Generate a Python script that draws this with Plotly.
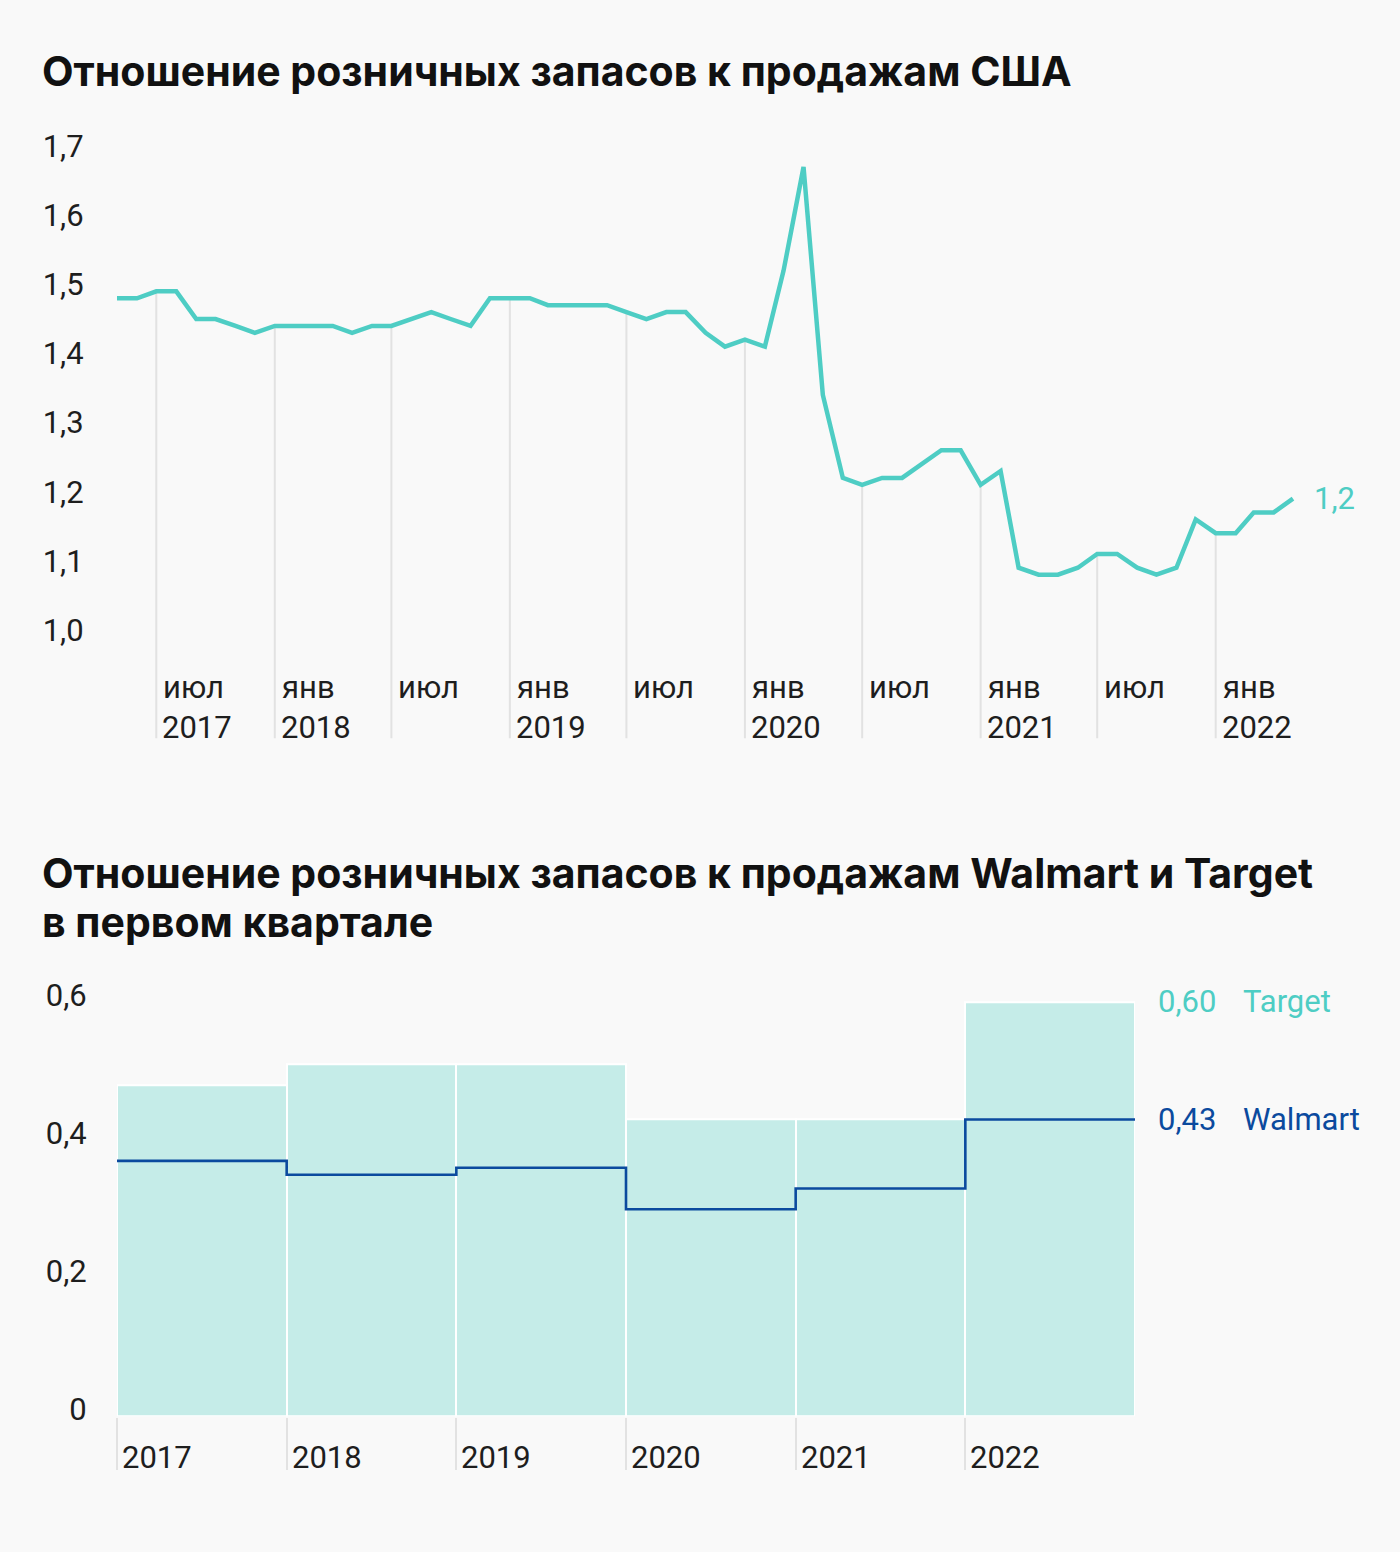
import plotly.graph_objects as go

# ---------------- data ----------------
TITLE_TOP = "Отношение розничных запасов к продажам США"
TITLE_BOTTOM_1 = "Отношение розничных запасов к продажам Walmart и Target"
TITLE_BOTTOM_2 = "в первом квартале"

months = [
    "2017-05-01", "2017-06-01", "2017-07-01", "2017-08-01", "2017-09-01", "2017-10-01", "2017-11-01", "2017-12-01",
    "2018-01-01", "2018-02-01", "2018-03-01", "2018-04-01", "2018-05-01", "2018-06-01",
    "2018-07-01", "2018-08-01", "2018-09-01", "2018-10-01", "2018-11-01", "2018-12-01",
    "2019-01-01", "2019-02-01", "2019-03-01", "2019-04-01", "2019-05-01", "2019-06-01",
    "2019-07-01", "2019-08-01", "2019-09-01", "2019-10-01", "2019-11-01", "2019-12-01",
    "2020-01-01", "2020-02-01", "2020-03-01", "2020-04-01", "2020-05-01", "2020-06-01",
    "2020-07-01", "2020-08-01", "2020-09-01", "2020-10-01", "2020-11-01", "2020-12-01",
    "2021-01-01", "2021-02-01", "2021-03-01", "2021-04-01", "2021-05-01", "2021-06-01",
    "2021-07-01", "2021-08-01", "2021-09-01", "2021-10-01", "2021-11-01", "2021-12-01",
    "2022-01-01", "2022-02-01", "2022-03-01", "2022-04-01", "2022-05-01",
]
us_ratio = [
    1.48, 1.48, 1.49, 1.49, 1.45, 1.45, 1.44, 1.43,
    1.44, 1.44, 1.44, 1.44, 1.43, 1.44,
    1.44, 1.45, 1.46, 1.45, 1.44, 1.48,
    1.48, 1.48, 1.47, 1.47, 1.47, 1.47,
    1.46, 1.45, 1.46, 1.46, 1.43, 1.41,
    1.42, 1.41, 1.52, 1.67, 1.34, 1.22,
    1.21, 1.22, 1.22, 1.24, 1.26, 1.26,
    1.21, 1.23, 1.09, 1.08, 1.08, 1.09,
    1.11, 1.11, 1.09, 1.08, 1.09, 1.16,
    1.14, 1.14, 1.17, 1.17, 1.19,
]
top_tick_dates = ["2017-07-01", "2018-01-01", "2018-07-01", "2019-01-01", "2019-07-01",
                  "2020-01-01", "2020-07-01", "2021-01-01", "2021-07-01", "2022-01-01"]
top_tick_months = ["июл", "янв", "июл", "янв", "июл", "янв", "июл", "янв", "июл", "янв"]
top_tick_years = ["2017", "2018", "", "2019", "", "2020", "", "2021", "", "2022"]
top_y_ticks = [1.0, 1.1, 1.2, 1.3, 1.4, 1.5, 1.6, 1.7]
top_y_text = ["1,0", "1,1", "1,2", "1,3", "1,4", "1,5", "1,6", "1,7"]
top_end_label = "1,2"

years = [2017, 2018, 2019, 2020, 2021, 2022]
year_labels = ["2017", "2018", "2019", "2020", "2021", "2022"]
target_ratio = [0.48, 0.51, 0.51, 0.43, 0.43, 0.60]
walmart_ratio = [0.37, 0.35, 0.36, 0.30, 0.33, 0.43]
bot_y_ticks = [0, 0.2, 0.4, 0.6]
bot_y_text = ["0", "0,2", "0,4", "0,6"]

# ---------------- style ----------------
PAGE_MARGIN = 8                      # default body margin of the page
W, H = 1400 - 2 * PAGE_MARGIN, 1552 - 2 * PAGE_MARGIN
FONT = "Roboto"
TITLE_FONT = "Inter"
TEAL = "#4ecdc4"
BAR = "#c5ece8"
BLUE = "#0b4a9e"
TXT = "#1e1e1e"
GRID = "#e2e2e2"
CARD = "#f9f9f9"
FS = 31


def py(pix):
    return 1 - (pix - PAGE_MARGIN) / H


def px(pix):
    return (pix - PAGE_MARGIN) / W


fig = go.Figure()

fig.add_trace(go.Scatter(x=months, y=us_ratio, mode="lines",
                         line=dict(color=TEAL, width=4.5), hoverinfo="skip",
                         xaxis="x", yaxis="y", showlegend=False))

fig.add_trace(go.Bar(x=years, y=target_ratio, width=1, offset=0,
                     marker=dict(color=BAR, line=dict(color="white", width=2)),
                     xaxis="x2", yaxis="y2", showlegend=False, hoverinfo="skip"))
fig.add_trace(go.Scatter(x=years + [years[-1] + 1], y=walmart_ratio + [walmart_ratio[-1]],
                         mode="lines", line=dict(color=BLUE, width=2.6, shape="hv"),
                         xaxis="x2", yaxis="y2", showlegend=False, hoverinfo="skip"))

TOP_YMIN, TOP_YMAX = 0.842857, 1.714286
shapes = []
val_by_month = dict(zip(months, us_ratio))
for d in top_tick_dates:
    shapes.append(dict(type="line", xref="x", yref="y", x0=d, x1=d,
                       y0=TOP_YMIN, y1=val_by_month[d],
                       line=dict(color=GRID, width=2), layer="below"))

annotations = []
title_font = dict(family=TITLE_FONT, size=41, color="#111", weight=700)
annotations.append(dict(text=TITLE_TOP, xref="paper", yref="paper",
                        x=px(40), y=py(64), xanchor="left", yanchor="middle", showarrow=False,
                        font=title_font))
annotations.append(dict(text=TITLE_BOTTOM_1, xref="paper", yref="paper",
                        x=px(40), y=py(876), xanchor="left", yanchor="middle", showarrow=False,
                        font=title_font))
annotations.append(dict(text=TITLE_BOTTOM_2, xref="paper", yref="paper",
                        x=px(40), y=py(926), xanchor="left", yanchor="middle", showarrow=False,
                        font=title_font))

for d, m, yv in zip(top_tick_dates, top_tick_months, top_tick_years):
    annotations.append(dict(text=m, xref="x", yref="paper", x=d, y=py(688), xshift=5,
                            xanchor="left", yanchor="middle", showarrow=False,
                            font=dict(family=FONT, size=FS, color=TXT)))
    if yv:
        annotations.append(dict(text=yv, xref="x", yref="paper", x=d, y=py(729), xshift=4,
                                xanchor="left", yanchor="middle", showarrow=False,
                                font=dict(family=FONT, size=FS, color=TXT)))

annotations.append(dict(text=top_end_label, xref="x", yref="y", x=months[-1], y=us_ratio[-1],
                        xshift=19, xanchor="left", yanchor="middle", showarrow=False,
                        font=dict(family=FONT, size=FS, color=TEAL)))

for yr, lab in zip(years, year_labels):
    annotations.append(dict(text=lab, xref="x2", yref="paper", x=yr, y=py(1469), xshift=3,
                            xanchor="left", yanchor="middle", showarrow=False,
                            font=dict(family=FONT, size=FS, color=TXT)))

end_x = years[-1] + 1
for val, name, col in [(target_ratio[-1], "Target", TEAL), (walmart_ratio[-1], "Walmart", BLUE)]:
    annotations.append(dict(text=f"{val:.2f}".replace(".", ","), xref="x2", yref="y2",
                            x=end_x, y=val, xshift=21, xanchor="left", yanchor="middle",
                            showarrow=False, font=dict(family=FONT, size=FS, color=col)))
    annotations.append(dict(text=name, xref="x2", yref="y2",
                            x=end_x, y=val, xshift=106, xanchor="left", yanchor="middle",
                            showarrow=False, font=dict(family=FONT, size=FS, color=col)))

fig.update_layout(
    width=W, height=H,
    margin=dict(l=0, r=0, t=0, b=0),
    paper_bgcolor=CARD, plot_bgcolor="rgba(0,0,0,0)",
    font=dict(family=FONT, size=FS, color=TXT),
    showlegend=False,
    bargap=0,
    xaxis=dict(type="date", domain=[px(113.8), px(1296.2)], range=["2017-04-26", "2022-05-06"],
               showgrid=False, zeroline=False, showline=False, showticklabels=False, ticks="",
               anchor="y"),
    yaxis=dict(domain=[py(740), py(130)], range=[TOP_YMIN, TOP_YMAX], showgrid=False,
               zeroline=False, showline=False, tickvals=top_y_ticks, ticktext=top_y_text,
               ticks="outside", ticklen=23, tickcolor="rgba(0,0,0,0)",
               tickfont=dict(family=FONT, size=FS, color=TXT), anchor="x"),
    xaxis2=dict(domain=[px(117), px(1135)], range=[2017, 2023], showgrid=False, zeroline=False,
                showline=False, tickvals=years, showticklabels=False, ticks="outside",
                ticklen=52, tickwidth=2, tickcolor=GRID, anchor="y2"),
    yaxis2=dict(domain=[py(1427), py(990)], range=[0, 0.624286], showgrid=False, zeroline=False,
                showline=False, tickvals=bot_y_ticks, ticktext=bot_y_text,
                ticks="outside", ticklen=23, tickcolor="rgba(0,0,0,0)", ticklabelshift=-7,
                tickfont=dict(family=FONT, size=FS, color=TXT), anchor="x2"),
    annotations=annotations,
    shapes=shapes,
)

fig.write_html("out.html", config={"displayModeBar": False},
               post_script="document.body.style.background='%s';" % CARD)
